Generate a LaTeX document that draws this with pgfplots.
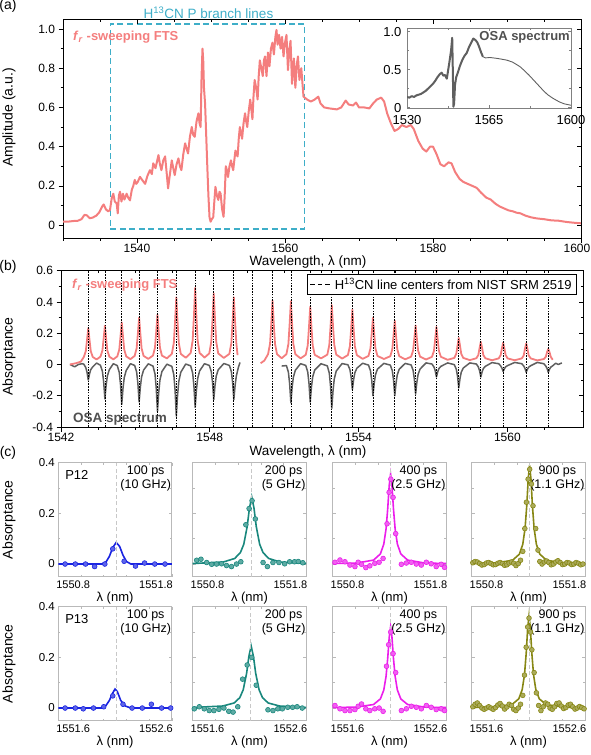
\documentclass[border=0pt]{standalone}
\usepackage{fontspec}
\setmainfont{Liberation Sans}
\usepackage{pgfplots}
\pgfplotsset{compat=1.18}
\definecolor{fts}{RGB}{244,126,126}
\definecolor{boxc}{RGB}{62,174,200}
\definecolor{osa}{RGB}{95,95,95}
\definecolor{osatxt}{RGB}{80,80,80}
\definecolor{cblue}{RGB}{25,35,225}
\definecolor{cteal}{RGB}{25,135,125}
\definecolor{cmag}{RGB}{235,30,235}
\definecolor{colive}{RGB}{135,135,20}
\definecolor{cframe}{RGB}{185,185,185}
\definecolor{cdash}{RGB}{200,200,200}
\tikzset{
  rtxt/.style={anchor=north east, align=center, font=\fontsize{12.5}{14}\selectfont, inner sep=0.5pt},
  ptxt/.style={anchor=west, font=\fontsize{13}{13}\selectfont, inner sep=0pt},
}
\pgfplotsset{
  base/.style={scale only axis, axis line style={line width=0.8pt}, tick style={black, line width=0.7pt}, major tick length=4.5pt, minor tick length=2.5pt},
  lowerax/.style={base, tick align=outside, xtick pos=left, ytick pos=left, tick label style={font=\fontsize{12}{12}\selectfont}, xticklabel style={inner sep=1pt, yshift=-0.5pt}},
  upperax/.style={base, tick align=inside, xtick pos=right, ytick pos=right, axis line style={draw=none}, xticklabels={}, yticklabels={}},
  cax/.style={scale only axis, width=113.5pt, height=114pt, ymin=-0.05, ymax=0.4,
    axis line style={draw=cframe, line width=0.9pt}, tick style={cframe, line width=0.6pt},
    tick align=inside, major tick length=3pt, minor tick length=2pt,
    ytick={0,0.2,0.4}, minor ytick={0.1,0.3}, yticklabels={},
    xticklabel style={font=\fontsize{11}{11}\selectfont, yshift=-1pt},
    yticklabel style={font=\fontsize{11.5}{11.5}\selectfont},
    xlabel={λ (nm)}, xlabel style={font=\fontsize{13}{13}\selectfont, at={(axis description cs:0.5,0)}, anchor=center, yshift=-21pt}},
  row1/.style={cax, xmin=1550.8, xmax=1551.8, xtick={1550.8,1551.8}, xticklabels={\rlap{\hspace*{-2pt}1550.8},\llap{1551.8\hspace*{-1pt}}}, minor xtick={1551,1551.2,1551.4,1551.6}},
  row2/.style={cax, xmin=1551.6, xmax=1552.6, xtick={1551.6,1552.6}, xticklabels={\rlap{\hspace*{-2pt}1551.6},\llap{1552.6\hspace*{-1pt}}}, minor xtick={1551.8,1552,1552.2,1552.4}},
  col1/.style={yticklabels={0,0.2,0.4}, ylabel={Absorptance}, ylabel style={font=\fontsize{14}{14}\selectfont, at={(axis description cs:-0.434,0.5)}, anchor=center}},
  dotsty/.style={only marks, mark=*, mark size=2.4pt, mark options={draw=#1, fill=#1!70!white, line width=0.6pt}},
  fitsty/.style={draw=#1, line width=1.6pt, no marks},
  cl/.style={draw=cdash, line width=0.9pt, dash pattern=on 4pt off 2.5pt, no marks},
}
\begin{document}
\begin{tikzpicture}[x=1pt,y=1pt]
\path[use as bounding box] (0,0) rectangle (591,-755);
% ---------------- (a) ----------------
\begin{axis}[lowerax, at={(63pt,-19pt)}, anchor=north west, width=518pt, height=219pt,
  xmin=1530, xmax=1600, ymin=-0.066, ymax=1.051,
  xtick={1540,1560,1580,1600}, xticklabels={1540,1560,1580,\hspace*{-8pt}1600}, minor xtick={1530,1535,...,1600},
  ytick={0,0.2,0.4,0.6,0.8,1.0}, yticklabels={0,0.2,0.4,0.6,0.8,1.0}, minor ytick={0.1,0.3,0.5,0.7,0.9},
  ylabel={Amplitude (a.u.)},
  ylabel style={font=\fontsize{14}{14}\selectfont, at={(axis description cs:-0.104,0.55)}, anchor=center}]
\addplot[boxc, line width=1.4pt, dash pattern=on 6pt off 3.5pt] coordinates {(1536.4,-0.02) (1562.6,-0.02) (1562.6,1.025) (1536.4,1.025) (1536.4,-0.02)};
\addplot[fts, line width=2pt, line join=round] coordinates {
(1530.0,0.017) (1530.8,0.018) (1531.5,0.021) (1532.0,0.022) (1532.5,0.030) (1532.9,0.052) (1533.2,0.050) (1533.6,0.035) (1534.0,0.038) (1534.5,0.048) (1534.9,0.065) (1535.3,0.095) (1535.5,0.105) (1535.8,0.080) (1536.1,0.070) (1536.35,0.077)
(1536.6,0.14) (1536.8,0.16) (1537.0,0.12) (1537.25,0.11) (1537.4,0.06) (1537.55,0.15) (1537.7,0.17) (1537.9,0.12) (1538.1,0.16) (1538.3,0.13) (1538.6,0.16) (1538.8,0.14) (1539.05,0.126) (1539.3,0.18) (1539.5,0.20) (1539.7,0.23) (1539.9,0.21) (1540.1,0.22) (1540.4,0.246) (1540.7,0.23) (1541.1,0.21) (1541.4,0.25) (1541.75,0.28) (1542.0,0.26) (1542.2,0.315) (1542.5,0.29) (1542.9,0.357) (1543.1,0.31) (1543.3,0.28) (1543.55,0.33) (1543.8,0.35) (1544.0,0.27) (1544.2,0.187) (1544.45,0.26) (1544.7,0.33) (1544.9,0.29) (1545.1,0.255) (1545.35,0.31) (1545.6,0.34) (1545.8,0.30) (1546.0,0.28) (1546.25,0.36) (1546.5,0.417) (1546.7,0.39) (1546.9,0.365) (1547.15,0.45) (1547.4,0.50) (1547.6,0.46) (1547.8,0.45) (1548.05,0.53) (1548.3,0.57) (1548.45,0.52) (1548.6,0.50) (1548.72,0.75) (1548.85,0.90) (1548.95,0.84) (1549.05,0.70) (1549.2,0.62) (1549.35,0.46) (1549.5,0.30) (1549.65,0.15) (1549.8,0.04) (1549.95,0.017) (1550.1,0.03) (1550.3,0.04) (1550.45,0.12) (1550.6,0.195) (1550.8,0.15) (1550.99,0.128) (1551.15,0.17) (1551.3,0.16) (1551.5,0.08) (1551.7,0.042) (1551.85,0.15) (1552.0,0.30) (1552.15,0.28) (1552.3,0.245) (1552.5,0.30) (1552.7,0.33) (1552.85,0.30) (1553.0,0.28) (1553.15,0.33) (1553.3,0.38) (1553.45,0.36) (1553.6,0.35) (1553.75,0.44) (1553.9,0.50) (1554.05,0.47) (1554.2,0.44) (1554.4,0.52) (1554.6,0.57) (1554.75,0.53) (1554.9,0.50) (1555.1,0.58) (1555.3,0.64) (1555.45,0.59) (1555.6,0.54) (1555.75,0.66) (1555.9,0.74) (1556.1,0.70) (1556.3,0.64) (1556.45,0.76) (1556.6,0.84) (1556.8,0.80) (1557.0,0.76) (1557.15,0.84) (1557.3,0.86) (1557.5,0.76) (1557.7,0.88) (1557.9,0.81) (1558.1,0.90) (1558.3,0.93) (1558.5,0.87) (1558.7,0.96) (1558.85,0.995) (1559.0,0.92) (1559.2,0.97) (1559.4,0.90) (1559.6,0.96) (1559.8,0.86) (1560.0,0.93) (1560.2,0.97) (1560.4,0.79) (1560.6,0.90) (1560.75,0.94) (1560.95,0.72) (1561.2,0.85) (1561.4,0.70) (1561.6,0.82) (1561.75,0.86) (1561.95,0.74) (1562.2,0.80) (1562.5,0.655)
(1563.0,0.64) (1563.5,0.63) (1564.0,0.64) (1564.5,0.655) (1564.8,0.62) (1565.3,0.60) (1566.0,0.595) (1567.0,0.59) (1567.6,0.60) (1568.2,0.635) (1568.6,0.615) (1569.2,0.61) (1569.6,0.625) (1570.0,0.60) (1570.7,0.60) (1571.4,0.595) (1571.9,0.62) (1572.4,0.64) (1573.0,0.65) (1573.4,0.63) (1573.8,0.57) (1574.3,0.52) (1574.8,0.48) (1575.3,0.49) (1575.8,0.51) (1576.4,0.50) (1577.0,0.51) (1577.4,0.49) (1578.0,0.43) (1578.6,0.39) (1579.1,0.375) (1579.6,0.40) (1580.0,0.40) (1580.5,0.36) (1581.0,0.31) (1581.5,0.30) (1582.1,0.32) (1582.5,0.315) (1583.0,0.27) (1583.6,0.235) (1584.1,0.22) (1584.7,0.21) (1585.3,0.20) (1585.9,0.19) (1586.5,0.165) (1587.2,0.14) (1587.8,0.13) (1588.4,0.11) (1589.0,0.095) (1589.6,0.085) (1590.2,0.075) (1590.8,0.07) (1591.3,0.063) (1591.8,0.06) (1592.5,0.048) (1593.2,0.04) (1594.0,0.034) (1595.0,0.03) (1596.0,0.024) (1597.0,0.022) (1598.0,0.016) (1599.0,0.012) (1600.0,0.009)};
\end{axis}
\begin{axis}[upperax, at={(63pt,-19pt)}, anchor=north west, width=518pt, height=219pt,
  xmin=1530, xmax=1600, ymin=-0.066, ymax=1.051,
  xtick={1540,1560,1580,1600}, minor xtick={1530,1535,...,1600},
  ytick={0,0.2,0.4,0.6,0.8,1.0}, minor ytick={0.1,0.3,0.5,0.7,0.9}]
\end{axis}
\node[font=\fontsize{13.5}{13.5}\selectfont, inner sep=0pt] at (308,-262) {Wavelength, λ (nm)};
% inset
\begin{axis}[scale only axis, at={(407pt,-28.3pt)}, anchor=north west, width=164pt, height=80pt,
  xmin=1530, xmax=1600, ymin=-0.01, ymax=1.045,
  axis line style={draw=gray, line width=0.8pt}, tick style={gray, line width=0.6pt}, tick align=inside,
  major tick length=3pt, minor tick length=2pt,
  xtick={1530,1565,1600}, xticklabels={1530,1565,1600}, minor xtick={1547.5,1582.5},
  ytick={0,0.5,1}, yticklabels={0,0.5,1.0}, minor ytick={0.25,0.75},
  tick label style={font=\fontsize{13}{13}\selectfont},
  xticklabel style={yshift=-4pt}, yticklabel style={xshift=-2pt}]
\addplot[osa, line width=2pt, line join=round] coordinates {
(1530.0,0.14) (1531,0.13) (1532,0.15) (1533,0.14) (1534,0.16) (1535,0.17) (1536,0.18) (1537,0.20) (1538,0.22) (1539,0.25) (1540,0.28) (1541,0.31) (1542,0.35) (1543,0.40) (1544,0.44) (1544.8,0.46) (1545.5,0.42) (1546.2,0.43) (1547.0,0.38) (1547.6,0.50) (1548.2,0.62) (1548.8,0.75) (1549.3,0.92) (1549.55,0.50) (1549.8,0.01) (1550.1,0.05) (1550.5,0.30) (1551.0,0.40) (1551.8,0.47) (1552.6,0.55) (1553.5,0.62) (1554.5,0.68) (1555.5,0.72) (1556.5,0.80) (1557.5,0.86) (1558.3,0.91) (1559.2,0.89) (1560.0,0.86) (1560.8,0.80) (1561.6,0.73) (1562.4,0.67)};
\addplot[osa, line width=0.9pt] coordinates {
(1562.4,0.67) (1563.5,0.655) (1565.4,0.66) (1568,0.65) (1570,0.64) (1572.6,0.625) (1575,0.60) (1578.2,0.54) (1580,0.49) (1582,0.43) (1585.3,0.32) (1588,0.23) (1590,0.17) (1592.4,0.12) (1595,0.075) (1597,0.05) (1600,0.03)};
\node[anchor=north east, text=osatxt, font=\bfseries\fontsize{13}{13}\selectfont, inner sep=1pt] at (rel axis cs:1,0.97) {OSA spectrum};
\end{axis}
\node[text=boxc, font=\fontsize{13.5}{13.5}\selectfont] at (208.5,-12.7) {H\textsuperscript{13}CN P branch lines};
\node[anchor=west, text=fts, font=\bfseries\fontsize{13}{13}\selectfont, inner sep=0pt] at (73,-37) {\textit{f}\textsubscript{\textit{r}} -sweeping FTS};
\node[font=\fontsize{14}{14}\selectfont] at (8,-6) {(a)};
% ---------------- (b) ----------------
\begin{axis}[lowerax, at={(61pt,-270.7pt)}, anchor=north west, width=522pt, height=156.3pt,
  xmin=1542, xmax=1563.05, ymin=-0.4, ymax=0.6,
  xtick={1542,1548,1554,1560}, xticklabels={1542,1548,1554,1560},
  minor xtick={1543.5,1545,1546.5,1549.5,1551,1552.5,1555.5,1557,1558.5,1561.5},
  ytick={-0.4,-0.2,0,0.2,0.4,0.6}, yticklabels={-0.4,-0.2,0,0.2,0.4,0.6}, minor ytick={-0.3,-0.1,0.1,0.3,0.5},
  ylabel={Absorptance},
  ylabel style={font=\fontsize{14}{14}\selectfont, at={(axis description cs:-0.0996,0.45)}, anchor=center},
  legend style={at={(0.9885,0.979)}, anchor=north east, font=\fontsize{13}{13}\selectfont, draw=black, line width=0.8pt, fill=white, inner xsep=3pt, inner ysep=2pt},
  legend cell align=left]
\addplot[osa, line width=1.5pt, line join=round, forget plot] coordinates {
(1542.36,0.0) (1542.55,-0.015) (1542.7,0.0) (1542.85,0.005)
(1542.92,0.002) (1543.00,-0.020) (1543.05,-0.050) (1543.10,-0.10) (1543.15,-0.06) (1543.20,-0.033) (1543.28,-0.015) (1543.435,0.009)
(1543.59,-0.005) (1543.67,-0.044) (1543.72,-0.11) (1543.77,-0.22) (1543.82,-0.132) (1543.87,-0.073) (1543.95,-0.033) (1544.11,0.005)
(1544.27,-0.007) (1544.35,-0.051) (1544.40,-0.128) (1544.45,-0.255) (1544.50,-0.153) (1544.55,-0.084) (1544.63,-0.038) (1544.80,0.005)
(1544.97,-0.006) (1545.05,-0.048) (1545.10,-0.12) (1545.15,-0.24) (1545.20,-0.144) (1545.25,-0.079) (1545.33,-0.036) (1545.52,0.004)
(1545.71,-0.010) (1545.79,-0.06) (1545.84,-0.15) (1545.89,-0.30) (1545.94,-0.18) (1545.99,-0.099) (1546.07,-0.045) (1546.27,0.002)
(1546.47,-0.012) (1546.55,-0.066) (1546.60,-0.165) (1546.65,-0.33) (1546.70,-0.198) (1546.75,-0.109) (1546.83,-0.05) (1547.03,0.003)
(1547.23,-0.009) (1547.31,-0.055) (1547.36,-0.138) (1547.41,-0.275) (1547.46,-0.165) (1547.51,-0.091) (1547.59,-0.041) (1547.785,0.005)
(1547.98,-0.006) (1548.06,-0.045) (1548.11,-0.113) (1548.16,-0.225) (1548.21,-0.135) (1548.26,-0.074) (1548.34,-0.034) (1548.565,0.006)
(1548.79,-0.006) (1548.87,-0.045) (1548.92,-0.113) (1548.97,-0.225) (1549.02,-0.135) (1549.07,-0.074) (1549.15,-0.02) (1549.22,0.013)};
\addplot[osa, line width=1.5pt, line join=round, forget plot] coordinates {
(1550.9,-0.01) (1551.09,-0.007) (1551.17,-0.049) (1551.22,-0.123) (1551.27,-0.245) (1551.32,-0.147) (1551.37,-0.081) (1551.45,-0.037) (1551.66,0.005)
(1551.87,-0.006) (1551.95,-0.048) (1552.00,-0.12) (1552.05,-0.24) (1552.10,-0.144) (1552.15,-0.079) (1552.23,-0.036) (1552.485,0.005)
(1552.74,-0.009) (1552.82,-0.056) (1552.87,-0.14) (1552.92,-0.28) (1552.97,-0.168) (1553.02,-0.092) (1553.10,-0.042) (1553.335,0.006)
(1553.57,-0.002) (1553.65,-0.032) (1553.70,-0.08) (1553.75,-0.16) (1553.80,-0.096) (1553.85,-0.053) (1553.93,-0.024) (1554.165,0.008)
(1554.40,-0.004) (1554.48,-0.04) (1554.53,-0.10) (1554.58,-0.20) (1554.63,-0.12) (1554.68,-0.066) (1554.76,-0.03) (1555.02,0.007)
(1555.28,-0.004) (1555.36,-0.04) (1555.41,-0.10) (1555.46,-0.20) (1555.51,-0.12) (1555.56,-0.066) (1555.64,-0.03) (1555.88,0.007)
(1556.12,-0.003) (1556.20,-0.038) (1556.25,-0.095) (1556.30,-0.19) (1556.35,-0.114) (1556.40,-0.063) (1556.48,-0.029) (1556.72,0.01)
(1556.96,0.003) (1557.04,-0.016) (1557.09,-0.04) (1557.14,-0.08) (1557.19,-0.048) (1557.24,-0.026) (1557.32,-0.012) (1557.59,0.01)
(1557.86,-0.001) (1557.94,-0.03) (1557.99,-0.075) (1558.04,-0.15) (1558.09,-0.09) (1558.14,-0.05) (1558.22,-0.023) (1558.485,0.01)
(1558.75,0.003) (1558.83,-0.016) (1558.88,-0.04) (1558.93,-0.08) (1558.98,-0.048) (1559.03,-0.026) (1559.11,-0.012) (1559.38,0.012)
(1559.65,0.005) (1559.73,-0.009) (1559.78,-0.023) (1559.83,-0.045) (1559.88,-0.027) (1559.93,-0.015) (1560.01,-0.007) (1560.295,0.013)
(1560.58,0.005) (1560.66,-0.01) (1560.71,-0.025) (1560.76,-0.05) (1560.81,-0.03) (1560.86,-0.017) (1560.94,-0.008) (1561.205,0.013)
(1561.47,0.005) (1561.55,-0.01) (1561.60,-0.025) (1561.65,-0.05) (1561.70,-0.03) (1561.75,-0.017) (1561.83,-0.008) (1561.95,0.008) (1562.05,0.0) (1562.2,0.01)};
\addplot[fts, line width=1.8pt, line join=round, forget plot] coordinates {
(1542.36,0.0) (1542.6,0.008) (1542.8,0.018) (1542.92,0.048) (1543.00,0.085) (1543.05,0.157) (1543.10,0.233) (1543.15,0.157) (1543.20,0.085) (1543.28,0.048) (1543.435,0.032)
(1543.59,0.050) (1543.67,0.089) (1543.72,0.166) (1543.77,0.248) (1543.82,0.166) (1543.87,0.089) (1543.95,0.050) (1544.11,0.033)
(1544.27,0.052) (1544.35,0.095) (1544.40,0.179) (1544.45,0.27) (1544.50,0.179) (1544.55,0.095) (1544.63,0.052) (1544.80,0.034)
(1544.97,0.055) (1545.05,0.103) (1545.10,0.197) (1545.15,0.30) (1545.20,0.197) (1545.25,0.103) (1545.33,0.055) (1545.52,0.036)
(1545.71,0.057) (1545.79,0.108) (1545.84,0.209) (1545.89,0.32) (1545.94,0.209) (1545.99,0.108) (1546.07,0.057) (1546.27,0.039)
(1546.47,0.068) (1546.55,0.138) (1546.60,0.274) (1546.65,0.43) (1546.70,0.274) (1546.75,0.138) (1546.83,0.068) (1547.03,0.043)
(1547.23,0.074) (1547.31,0.154) (1547.36,0.309) (1547.41,0.49) (1547.46,0.309) (1547.51,0.154) (1547.59,0.074) (1547.785,0.044)
(1547.98,0.071) (1548.06,0.145) (1548.11,0.288) (1548.16,0.455) (1548.21,0.288) (1548.26,0.145) (1548.34,0.071) (1548.565,0.042)
(1548.79,0.068) (1548.87,0.138) (1548.92,0.274) (1548.97,0.43) (1549.02,0.274) (1549.07,0.138) (1549.12,0.06)};
\addplot[fts, line width=1.8pt, line join=round, forget plot] coordinates {
(1550.05,0.008) (1550.2,0.025) (1550.35,0.066) (1550.43,0.133) (1550.48,0.262) (1550.53,0.41) (1550.58,0.262) (1550.63,0.133) (1550.71,0.066) (1550.90,0.040)
(1551.09,0.066) (1551.17,0.131) (1551.22,0.259) (1551.27,0.405) (1551.32,0.259) (1551.37,0.131) (1551.45,0.066) (1551.66,0.039)
(1551.87,0.062) (1551.95,0.122) (1552.00,0.238) (1552.05,0.37) (1552.10,0.238) (1552.15,0.122) (1552.23,0.062) (1552.485,0.039)
(1552.74,0.063) (1552.82,0.125) (1552.87,0.244) (1552.92,0.38) (1552.97,0.244) (1553.02,0.125) (1553.10,0.063) (1553.335,0.038)
(1553.57,0.060) (1553.65,0.117) (1553.70,0.227) (1553.75,0.35) (1553.80,0.227) (1553.85,0.117) (1553.93,0.060) (1554.165,0.036)
(1554.40,0.055) (1554.48,0.103) (1554.53,0.197) (1554.58,0.30) (1554.63,0.197) (1554.68,0.103) (1554.76,0.055) (1555.02,0.035)
(1555.28,0.053) (1555.36,0.098) (1555.41,0.185) (1555.46,0.28) (1555.51,0.185) (1555.56,0.098) (1555.64,0.053) (1555.88,0.033)
(1556.12,0.050) (1556.20,0.090) (1556.25,0.168) (1556.30,0.25) (1556.35,0.168) (1556.40,0.090) (1556.48,0.050) (1556.72,0.032)
(1556.96,0.049) (1557.04,0.087) (1557.09,0.162) (1557.14,0.24) (1557.19,0.162) (1557.24,0.087) (1557.32,0.049) (1557.59,0.030)
(1557.86,0.042) (1557.94,0.068) (1557.99,0.120) (1558.04,0.17) (1558.09,0.120) (1558.14,0.068) (1558.22,0.042) (1558.485,0.028)
(1558.75,0.040) (1558.83,0.061) (1558.88,0.106) (1558.93,0.145) (1558.98,0.106) (1559.03,0.061) (1559.11,0.040) (1559.38,0.027)
(1559.65,0.039) (1559.73,0.060) (1559.78,0.103) (1559.83,0.14) (1559.88,0.103) (1559.93,0.060) (1560.01,0.039) (1560.295,0.027)
(1560.58,0.039) (1560.66,0.058) (1560.71,0.100) (1560.76,0.135) (1560.81,0.100) (1560.86,0.058) (1560.94,0.039) (1561.205,0.026)
(1561.47,0.035) (1561.55,0.049) (1561.60,0.079) (1561.65,0.10) (1561.70,0.079) (1561.75,0.049) (1561.83,0.03)};
\addplot[black, line width=0.7pt, dash pattern=on 1.6pt off 1.2pt, unbounded coords=jump,
  legend image code/.code={\draw[black, line width=0.9pt, dash pattern=on 4.5pt off 3pt] (0pt,0pt) -- (22pt,0pt);}] coordinates {
(1543.10,-0.4) (1543.10,0.6) (1543.10,nan) (1543.77,-0.4) (1543.77,0.6) (1543.77,nan)
(1544.45,-0.4) (1544.45,0.6) (1544.45,nan) (1545.15,-0.4) (1545.15,0.6) (1545.15,nan)
(1545.89,-0.4) (1545.89,0.6) (1545.89,nan) (1546.65,-0.4) (1546.65,0.6) (1546.65,nan)
(1547.41,-0.4) (1547.41,0.6) (1547.41,nan) (1548.16,-0.4) (1548.16,0.6) (1548.16,nan)
(1548.97,-0.4) (1548.97,0.6) (1548.97,nan) (1549.73,-0.4) (1549.73,0.6) (1549.73,nan)
(1550.53,-0.4) (1550.53,0.6) (1550.53,nan) (1551.27,-0.4) (1551.27,0.6) (1551.27,nan)
(1552.05,-0.4) (1552.05,0.6) (1552.05,nan) (1552.92,-0.4) (1552.92,0.6) (1552.92,nan)
(1553.75,-0.4) (1553.75,0.6) (1553.75,nan) (1554.58,-0.4) (1554.58,0.6) (1554.58,nan)
(1555.46,-0.4) (1555.46,0.6) (1555.46,nan) (1556.30,-0.4) (1556.30,0.6) (1556.30,nan)
(1557.14,-0.4) (1557.14,0.6) (1557.14,nan) (1558.04,-0.4) (1558.04,0.6) (1558.04,nan)
(1558.93,-0.4) (1558.93,0.6) (1558.93,nan) (1559.83,-0.4) (1559.83,0.6) (1559.83,nan)
(1560.76,-0.4) (1560.76,0.6) (1560.76,nan) (1561.65,-0.4) (1561.65,0.6)};
\addlegendentry{H\textsuperscript{13}CN line centers from NIST SRM 2519}
\end{axis}
\begin{axis}[upperax, at={(61pt,-270.7pt)}, anchor=north west, width=522pt, height=156.3pt,
  xmin=1542, xmax=1563.05, ymin=-0.4, ymax=0.6,
  xtick={1542,1548,1554,1560}, minor xtick={1543.5,1545,1546.5,1549.5,1551,1552.5,1555.5,1557,1558.5,1561.5},
  ytick={-0.4,-0.2,0,0.2,0.4,0.6}, minor ytick={-0.3,-0.1,0.1,0.3,0.5}]
\end{axis}
\node[font=\fontsize{13.5}{13.5}\selectfont, inner sep=0pt] at (308,-452.5) {Wavelength, λ (nm)};
\node[anchor=west, text=fts, font=\bfseries\fontsize{13}{13}\selectfont, inner sep=0pt] at (72,-285) {\textit{f}\textsubscript{\textit{r}} -sweeping FTS};
\node[anchor=west, text=osatxt, font=\bfseries\fontsize{13.5}{13.5}\selectfont, inner sep=0pt] at (73,-419) {OSA spectrum};
\node[font=\fontsize{14}{14}\selectfont] at (8,-267) {(b)};
\node[font=\fontsize{14}{14}\selectfont] at (8,-453) {(c)};
% ---------------- (c) row 1 ----------------
\begin{axis}[row1, col1, at={(58.3pt,-462.7pt)}, anchor=north west]
\addplot[fitsty=cblue] coordinates {(1550.8,0) (1551.18,0) (1551.22,0.008) (1551.25,0.03) (1551.28,0.065) (1551.31,0.085) (1551.34,0.07) (1551.37,0.035) (1551.40,0.01) (1551.44,0) (1551.8,0)};
\addplot[dotsty=cblue] coordinates {(1550.86,0) (1550.95,0) (1551.04,0) (1551.12,-0.01) (1551.21,0) (1551.28,0.06) (1551.38,0.011) (1551.48,-0.008) (1551.56,0.004) (1551.65,0) (1551.74,0)};
\addplot[cl] coordinates {(1551.31,-0.05) (1551.31,0.4)};
\node[ptxt] at (rel axis cs:0.06,0.892) {P12};
\node[rtxt] at (rel axis cs:1,0.975) {100 ps\\(10 GHz)};
\end{axis}
\begin{axis}[row1, at={(192.7pt,-462.7pt)}, anchor=north west]
\addplot[fitsty=cteal] coordinates {(1550.8,0.002) (1551.07,0.008) (1551.17,0.022) (1551.22,0.045) (1551.25,0.078) (1551.28,0.148) (1551.30,0.221) (1551.32,0.265) (1551.34,0.221) (1551.36,0.148) (1551.39,0.078) (1551.42,0.045) (1551.47,0.022) (1551.57,0.008) (1551.8,0.002)};
\addplot[dotsty=cteal] coordinates {(1550.835,0.015) (1550.873,0.019) (1550.923,0.006) (1550.967,-0.001) (1551.01,0) (1551.054,0.001) (1551.098,-0.006) (1551.142,-0.01) (1551.186,0) (1551.224,0.009) (1551.268,0.155) (1551.297,0.219) (1551.323,0.25) (1551.352,0.178) (1551.42,0.006) (1551.458,-0.01) (1551.507,0.006) (1551.56,0.006) (1551.61,0.001) (1551.654,0.009) (1551.697,0.009) (1551.73,0.01) (1551.77,0.005)};
\addplot[cl] coordinates {(1551.32,-0.05) (1551.32,0.4)};
\node[rtxt] at (rel axis cs:1,0.975) {200 ps\\(5 GHz)};
\end{axis}
\begin{axis}[row1, at={(332.7pt,-462.7pt)}, anchor=north west]
\addplot[fitsty=cmag] coordinates {(1550.8,0.002) (1551.01,0.004) (1551.16,0.0155) (1551.22,0.04) (1551.25,0.0785) (1551.27,0.1385) (1551.285,0.22) (1551.298,0.311) (1551.31,0.355) (1551.322,0.311) (1551.335,0.22) (1551.35,0.1385) (1551.37,0.0785) (1551.40,0.04) (1551.46,0.0155) (1551.61,0.004) (1551.8,0.002)};
\addplot[dotsty=cmag] coordinates {(1550.82,0.007) (1550.864,0.016) (1550.908,0.009) (1550.952,-0.004) (1550.996,-0.01) (1551.025,0.007) (1551.054,-0.001) (1551.092,-0.014) (1551.127,-0.007) (1551.171,0.003) (1551.209,0.007) (1551.244,0.022) (1551.279,0.159) (1551.297,0.283) (1551.312,0.335) (1551.332,0.263) (1551.355,0.12) (1551.405,-0.001) (1551.449,0.004) (1551.493,0.007) (1551.537,0) (1551.581,-0.004) (1551.625,0.007) (1551.668,0.001) (1551.712,-0.01) (1551.756,-0.001) (1551.785,-0.013)};
\addplot[cl] coordinates {(1551.31,-0.05) (1551.31,0.4)};
\node[rtxt] at (rel axis cs:1,0.975) {400 ps\\(2.5 GHz)};
\end{axis}
\begin{axis}[row1, at={(471.7pt,-462.7pt)}, anchor=north west]
\addplot[fitsty=colive] coordinates {(1550.8,0.002) (1551.01,0.004) (1551.16,0.015) (1551.22,0.039) (1551.25,0.078) (1551.27,0.14) (1551.285,0.23) (1551.298,0.336) (1551.31,0.39) (1551.322,0.336) (1551.335,0.23) (1551.35,0.14) (1551.37,0.078) (1551.40,0.039) (1551.46,0.015) (1551.61,0.004) (1551.8,0.002)};
\addplot[dotsty=colive] coordinates {(1550.81,0.005) (1550.83,0.010) (1550.85,0.008) (1550.87,0.002) (1550.89,-0.004) (1550.91,-0.002) (1550.93,0.004) (1550.95,0.006) (1550.97,0.002) (1550.99,-0.003) (1551.01,-0.002) (1551.03,0.003) (1551.05,0.006) (1551.07,0.002) (1551.09,-0.005) (1551.11,-0.003) (1551.13,0.004) (1551.15,0.008) (1551.17,0.003) (1551.19,-0.006) (1551.21,0.002) (1551.23,0.015) (1551.25,0.05) (1551.268,0.14) (1551.282,0.244) (1551.297,0.335) (1551.311,0.374) (1551.326,0.316) (1551.34,0.23) (1551.364,0.14) (1551.384,0.055) (1551.40,0.01) (1551.42,0.0) (1551.44,0.008) (1551.46,0.012) (1551.48,0.006) (1551.50,-0.003) (1551.52,0.0) (1551.54,0.008) (1551.56,0.013) (1551.58,0.006) (1551.60,-0.002) (1551.62,0.0) (1551.64,0.006) (1551.66,0.004) (1551.68,-0.002) (1551.70,0.0) (1551.72,0.006) (1551.74,0.003) (1551.76,-0.003) (1551.78,0.0)};
\addplot[cl] coordinates {(1551.31,-0.05) (1551.31,0.4)};
\node[rtxt] at (rel axis cs:1,0.975) {900 ps\\(1.1 GHz)};
\end{axis}
% ---------------- (c) row 2 ----------------
\begin{axis}[row2, col1, at={(58.3pt,-606.7pt)}, anchor=north west]
\addplot[fitsty=cblue] coordinates {(1551.6,0) (1551.98,0) (1552.02,0.01) (1552.05,0.03) (1552.08,0.06) (1552.10,0.075) (1552.12,0.065) (1552.15,0.03) (1552.19,0.008) (1552.24,0) (1552.6,0)};
\addplot[dotsty=cblue] coordinates {(1551.66,0) (1551.75,0) (1551.82,-0.003) (1551.91,0) (1552.00,0.005) (1552.08,0.048) (1552.17,0.015) (1552.25,0) (1552.34,0) (1552.42,0.015) (1552.51,0) (1552.59,0)};
\addplot[cl] coordinates {(1552.11,-0.05) (1552.11,0.4)};
\node[ptxt] at (rel axis cs:0.06,0.892) {P13};
\node[rtxt] at (rel axis cs:1,0.975) {100 ps\\(10 GHz)};
\end{axis}
\begin{axis}[row2, at={(192.7pt,-606.7pt)}, anchor=north west]
\addplot[fitsty=cteal] coordinates {(1551.6,0.002) (1551.865,0.008) (1551.965,0.02) (1552.015,0.041) (1552.045,0.072) (1552.075,0.137) (1552.095,0.204) (1552.115,0.245) (1552.135,0.204) (1552.155,0.137) (1552.185,0.072) (1552.215,0.041) (1552.265,0.02) (1552.365,0.008) (1552.6,0.002)};
\addplot[dotsty=cteal] coordinates {(1551.614,-0.003) (1551.658,0.005) (1551.702,-0.003) (1551.746,-0.01) (1551.787,-0.01) (1551.831,-0.005) (1551.875,0) (1551.918,-0.013) (1551.956,-0.016) (1551.997,0.005) (1552.04,0.114) (1552.08,0.17) (1552.12,0.20) (1552.16,0.09) (1552.263,-0.007) (1552.307,-0.01) (1552.35,-0.003) (1552.39,-0.003) (1552.437,0.003) (1552.48,0.003) (1552.52,0.005) (1552.565,0.0)};
\addplot[cl] coordinates {(1552.11,-0.05) (1552.11,0.4)};
\node[rtxt] at (rel axis cs:1,0.975) {200 ps\\(5 GHz)};
\end{axis}
\begin{axis}[row2, at={(332.7pt,-606.7pt)}, anchor=north west]
\addplot[fitsty=cmag] coordinates {(1551.6,0.002) (1551.81,0.0036) (1551.96,0.014) (1552.02,0.036) (1552.05,0.071) (1552.07,0.125) (1552.085,0.198) (1552.098,0.28) (1552.11,0.32) (1552.122,0.28) (1552.135,0.198) (1552.15,0.125) (1552.17,0.071) (1552.20,0.036) (1552.26,0.014) (1552.41,0.0036) (1552.6,0.002)};
\addplot[dotsty=cmag] coordinates {(1551.62,0.01) (1551.664,-0.003) (1551.708,-0.01) (1551.752,-0.01) (1551.796,-0.006) (1551.825,0.007) (1551.854,0.016) (1551.892,-0.003) (1551.927,-0.01) (1551.971,-0.003) (1552.009,0) (1552.044,-0.013) (1552.074,0.165) (1552.093,0.25) (1552.111,0.30) (1552.132,0.215) (1552.155,0.14) (1552.205,-0.01) (1552.249,-0.003) (1552.293,0.007) (1552.337,0.003) (1552.381,-0.003) (1552.425,0.01) (1552.468,0.003) (1552.512,-0.006) (1552.556,-0.003) (1552.585,-0.01)};
\addplot[cl] coordinates {(1552.11,-0.05) (1552.11,0.4)};
\node[rtxt] at (rel axis cs:1,0.975) {400 ps\\(2.5 GHz)};
\end{axis}
\begin{axis}[row2, at={(471.7pt,-606.7pt)}, anchor=north west]
\addplot[fitsty=colive] coordinates {(1551.6,0.002) (1551.805,0.0037) (1551.955,0.014) (1552.015,0.0365) (1552.045,0.073) (1552.065,0.131) (1552.08,0.215) (1552.093,0.3145) (1552.105,0.365) (1552.117,0.3145) (1552.13,0.215) (1552.145,0.131) (1552.165,0.073) (1552.195,0.0365) (1552.255,0.014) (1552.405,0.0037) (1552.6,0.002)};
\addplot[dotsty=colive] coordinates {(1551.61,0.005) (1551.63,0.015) (1551.65,0.02) (1551.67,0.01) (1551.69,0.0) (1551.71,-0.005) (1551.73,0.0) (1551.75,0.005) (1551.77,0.0) (1551.79,-0.005) (1551.81,0.002) (1551.83,0.012) (1551.85,0.018) (1551.87,0.008) (1551.89,-0.004) (1551.91,0.004) (1551.93,0.015) (1551.95,0.01) (1551.97,-0.005) (1551.99,-0.01) (1552.01,0.0) (1552.03,0.015) (1552.05,0.05) (1552.065,0.13) (1552.08,0.24) (1552.093,0.32) (1552.105,0.355) (1552.118,0.30) (1552.13,0.23) (1552.15,0.14) (1552.17,0.06) (1552.19,0.01) (1552.21,-0.01) (1552.23,0.005) (1552.25,0.02) (1552.27,0.015) (1552.29,0.0) (1552.31,-0.005) (1552.33,0.005) (1552.35,0.018) (1552.37,0.02) (1552.39,0.008) (1552.41,-0.002) (1552.43,0.002) (1552.45,0.012) (1552.47,0.015) (1552.49,0.005) (1552.51,-0.004) (1552.53,0.0) (1552.55,0.006) (1552.57,0.002) (1552.59,-0.003)};
\addplot[cl] coordinates {(1552.105,-0.05) (1552.105,0.4)};
\node[rtxt] at (rel axis cs:1,0.975) {900 ps\\(1.1 GHz)};
\end{axis}
\end{tikzpicture}
\end{document}
